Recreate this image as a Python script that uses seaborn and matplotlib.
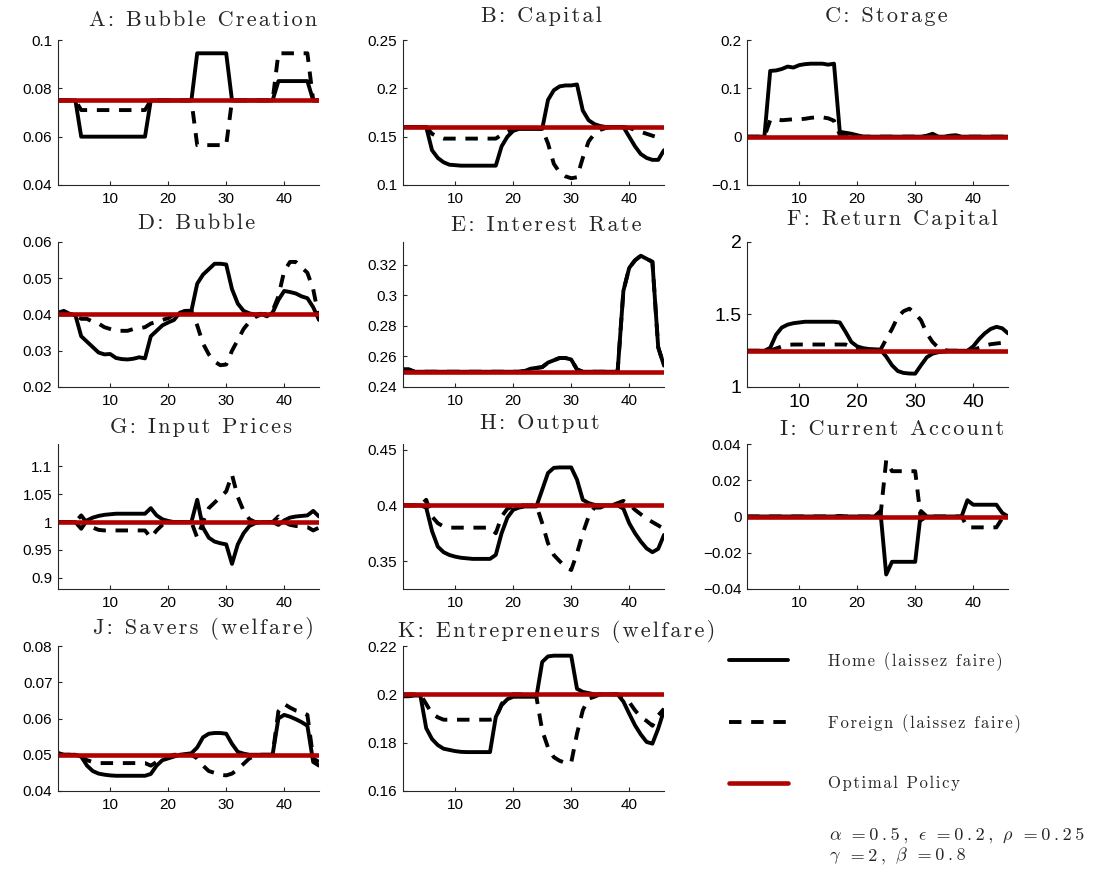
import matplotlib
matplotlib.use("Agg")
import matplotlib.pyplot as plt
from matplotlib.ticker import FuncFormatter
from matplotlib.font_manager import FontProperties
from matplotlib.offsetbox import TextArea, HPacker, AnchoredOffsetbox
import seaborn as sns

# ---------------------------------------------------------------------------
# Data, periods 1..46
# ---------------------------------------------------------------------------
periods = list(range(1, 47))

home_a = [0.075, 0.075, 0.075, 0.075, 0.060, 0.060, 0.060, 0.060, 0.060, 0.060,
          0.060, 0.060, 0.060, 0.060, 0.060, 0.060, 0.075, 0.075, 0.075, 0.075,
          0.075, 0.075, 0.075, 0.075, 0.0945, 0.0945, 0.0945, 0.0945, 0.0945, 0.0945,
          0.075, 0.075, 0.075, 0.075, 0.075, 0.075, 0.075, 0.075, 0.083, 0.083,
          0.083, 0.083, 0.083, 0.083, 0.075, 0.075]
foreign_a = [0.075, 0.075, 0.075, 0.075, 0.071, 0.071, 0.071, 0.071, 0.071, 0.071,
             0.071, 0.071, 0.071, 0.071, 0.071, 0.071, 0.075, 0.075, 0.075, 0.075,
             0.075, 0.075, 0.075, 0.075, 0.0565, 0.0565, 0.0565, 0.0565, 0.0565, 0.0565,
             0.075, 0.075, 0.075, 0.075, 0.075, 0.075, 0.075, 0.075, 0.0945, 0.0945,
             0.0945, 0.0945, 0.0945, 0.0945, 0.075, 0.075]

home_b = [0.160, 0.160, 0.160, 0.160, 0.160, 0.136, 0.128, 0.1235, 0.121, 0.1205,
          0.120, 0.120, 0.120, 0.120, 0.120, 0.120, 0.120, 0.140, 0.150, 0.156,
          0.158, 0.158, 0.158, 0.158, 0.158, 0.188, 0.198, 0.202, 0.203, 0.203,
          0.204, 0.177, 0.167, 0.163, 0.161, 0.160, 0.160, 0.160, 0.160, 0.150,
          0.140, 0.132, 0.128, 0.126, 0.126, 0.136]
foreign_b = [0.160, 0.160, 0.160, 0.160, 0.160, 0.153, 0.150, 0.148, 0.148, 0.148,
             0.148, 0.148, 0.148, 0.148, 0.148, 0.148, 0.148, 0.152, 0.155, 0.158,
             0.159, 0.159, 0.159, 0.159, 0.158, 0.143, 0.122, 0.113, 0.109, 0.107,
             0.108, 0.128, 0.145, 0.153, 0.157, 0.159, 0.160, 0.160, 0.160, 0.159,
             0.157, 0.155, 0.153, 0.151, 0.149, 0.147]

home_c = [0.0, 0.0, 0.0, 0.0, 0.136, 0.137, 0.140, 0.145, 0.143, 0.148,
          0.150, 0.151, 0.151, 0.151, 0.149, 0.151, 0.010, 0.008, 0.006, 0.003,
          0.0, 0.0, 0.0, 0.0, 0.0, 0.0, 0.0, 0.0, 0.0, 0.0,
          0.0, 0.002, 0.006, 0.0, 0.0, 0.002, 0.003, 0.0, 0.0, 0.0,
          0.0, 0.0, 0.0, 0.0, 0.0, 0.0]
foreign_c = [0.0, 0.0, 0.0, 0.0, 0.034, 0.036, 0.034, 0.035, 0.036, 0.036,
             0.037, 0.039, 0.040, 0.040, 0.038, 0.033, 0.004, 0.004, 0.002, 0.001,
             0.0, 0.0, 0.0, 0.0, 0.0, 0.0, 0.0, 0.0, 0.0, 0.0,
             0.0, 0.0, 0.0, 0.0, 0.0, 0.0, 0.0, 0.0, 0.0, 0.0,
             0.0, 0.0, 0.0, 0.0, 0.0, 0.0]

home_d = [0.0405, 0.041, 0.0402, 0.0398, 0.034, 0.0325, 0.031, 0.0295, 0.029, 0.0291,
          0.028, 0.0277, 0.0276, 0.0278, 0.0282, 0.0279, 0.034, 0.0355, 0.037, 0.0378,
          0.0385, 0.0405, 0.041, 0.041, 0.0485, 0.051, 0.0525, 0.054, 0.054, 0.0538,
          0.047, 0.043, 0.041, 0.0403, 0.040, 0.0402, 0.0395, 0.0405, 0.044, 0.0465,
          0.0462, 0.0458, 0.045, 0.0445, 0.042, 0.0385]
foreign_d = [0.040, 0.040, 0.040, 0.040, 0.0388, 0.0388, 0.038, 0.0375, 0.0365, 0.036,
             0.0355, 0.0355, 0.0355, 0.036, 0.0362, 0.0365, 0.0375, 0.038, 0.0385, 0.039,
             0.040, 0.0405, 0.041, 0.041, 0.037, 0.032, 0.029, 0.027, 0.026, 0.0262,
             0.030, 0.033, 0.036, 0.038, 0.0393, 0.040, 0.0402, 0.041, 0.045, 0.052,
             0.0545, 0.0545, 0.053, 0.0515, 0.047, 0.039]

home_e = [0.2515, 0.2515, 0.250, 0.250, 0.250, 0.250, 0.250, 0.250, 0.250, 0.250,
          0.250, 0.250, 0.250, 0.250, 0.250, 0.250, 0.250, 0.250, 0.250, 0.250,
          0.250, 0.2505, 0.252, 0.2525, 0.253, 0.256, 0.2575, 0.259, 0.259, 0.258,
          0.2515, 0.250, 0.250, 0.250, 0.250, 0.250, 0.250, 0.250, 0.303, 0.318,
          0.323, 0.326, 0.324, 0.322, 0.266, 0.254]
foreign_e = list(home_e)   # world interest rate: identical in both countries

home_f = [1.25, 1.25, 1.25, 1.25, 1.27, 1.36, 1.41, 1.43, 1.44, 1.445,
          1.45, 1.45, 1.45, 1.45, 1.45, 1.45, 1.445, 1.38, 1.31, 1.28,
          1.268, 1.262, 1.26, 1.258, 1.21, 1.15, 1.11, 1.097, 1.093, 1.092,
          1.15, 1.205, 1.23, 1.24, 1.245, 1.25, 1.25, 1.25, 1.25, 1.28,
          1.33, 1.37, 1.40, 1.415, 1.405, 1.37]
foreign_f = [1.25, 1.25, 1.25, 1.25, 1.25, 1.265, 1.28, 1.29, 1.293, 1.293,
             1.293, 1.293, 1.293, 1.293, 1.293, 1.293, 1.293, 1.293, 1.275, 1.26,
             1.255, 1.255, 1.255, 1.255, 1.33, 1.40, 1.484, 1.523, 1.54, 1.507,
             1.46, 1.37, 1.31, 1.27, 1.255, 1.25, 1.25, 1.25, 1.25, 1.255,
             1.27, 1.285, 1.295, 1.30, 1.305, 1.31]

home_g = [1.0, 1.0, 1.0, 1.0, 0.988, 1.003, 1.008, 1.011, 1.013, 1.014,
          1.015, 1.015, 1.015, 1.015, 1.015, 1.015, 1.025, 1.012, 1.005, 1.002,
          1.0, 1.0, 1.0, 1.0, 1.040, 0.990, 0.972, 0.965, 0.962, 0.960,
          0.925, 0.960, 0.980, 0.993, 0.998, 1.0, 1.0, 1.0, 0.995, 1.003,
          1.008, 1.010, 1.011, 1.012, 1.020, 1.010]
foreign_g = [1.0, 1.0, 1.0, 1.0, 1.012, 0.998, 0.990, 0.986, 0.985, 0.985,
             0.985, 0.985, 0.985, 0.985, 0.985, 0.985, 0.972, 0.985, 0.995, 1.0,
             1.0, 1.0, 1.0, 1.0, 0.972, 1.0, 1.025, 1.035, 1.045, 1.055,
             1.085, 1.045, 1.020, 1.005, 1.0, 1.0, 1.0, 1.0, 1.010, 1.0,
             0.995, 0.993, 0.992, 0.991, 0.985, 0.990]

home_h = [0.400, 0.400, 0.400, 0.400, 0.398, 0.377, 0.363, 0.358, 0.3555, 0.354,
          0.353, 0.3525, 0.352, 0.352, 0.352, 0.352, 0.3556, 0.375, 0.389, 0.396,
          0.398, 0.399, 0.399, 0.399, 0.414, 0.429, 0.4336, 0.434, 0.434, 0.434,
          0.423, 0.405, 0.402, 0.4005, 0.400, 0.400, 0.400, 0.400, 0.397, 0.384,
          0.375, 0.3676, 0.3614, 0.358, 0.361, 0.3735]
foreign_h = [0.400, 0.400, 0.400, 0.400, 0.405, 0.390, 0.384, 0.381, 0.380, 0.380,
             0.380, 0.380, 0.380, 0.380, 0.380, 0.380, 0.375, 0.390, 0.397, 0.399,
             0.400, 0.400, 0.400, 0.400, 0.384, 0.366, 0.3555, 0.350, 0.345, 0.342,
             0.357, 0.375, 0.390, 0.398, 0.398, 0.400, 0.400, 0.402, 0.404, 0.401,
             0.396, 0.392, 0.388, 0.385, 0.382, 0.379]

home_i = [0.0, 0.0, 0.0, 0.0, 0.0, 0.0, 0.0, 0.0, 0.0, 0.0,
          0.0, 0.0, 0.0, 0.0, 0.0, 0.0, 0.0003, 0.0, 0.0, 0.0,
          0.0, 0.0, 0.0, 0.003, -0.032, -0.025, -0.025, -0.025, -0.025, -0.025,
          0.003, 0.0, 0.0, 0.0, 0.0, 0.0, 0.0, 0.0, 0.009, 0.0065,
          0.0065, 0.0065, 0.0065, 0.0065, 0.002, 0.0]
foreign_i = [0.0, 0.0, 0.0, 0.0, 0.0, 0.0, 0.0, 0.0, 0.0, 0.0,
             0.0, 0.0, 0.0, 0.0, 0.0, 0.0, 0.0, 0.0, 0.0, 0.0,
             0.0, 0.0, 0.0, 0.0, 0.031, 0.025, 0.025, 0.025, 0.025, 0.025,
             -0.002, 0.0, 0.0, 0.0, 0.0, 0.0, 0.0, 0.0, -0.006, -0.006,
             -0.006, -0.006, -0.006, -0.006, -0.001, 0.0]

home_j = [0.0505, 0.050, 0.050, 0.050, 0.0495, 0.047, 0.0455, 0.0448, 0.0445, 0.0443,
          0.0442, 0.0442, 0.0442, 0.0442, 0.0442, 0.0442, 0.0447, 0.047, 0.0485, 0.049,
          0.0495, 0.050, 0.0502, 0.0504, 0.052, 0.0548, 0.0558, 0.056, 0.056, 0.0558,
          0.053, 0.0508, 0.0503, 0.050, 0.050, 0.050, 0.050, 0.050, 0.060, 0.061,
          0.0605, 0.0598, 0.059, 0.058, 0.048, 0.047]
foreign_j = [0.050, 0.050, 0.050, 0.050, 0.0495, 0.0485, 0.048, 0.0477, 0.0477, 0.0477,
             0.0477, 0.0477, 0.0477, 0.0477, 0.0477, 0.0477, 0.047, 0.048, 0.049, 0.0495,
             0.050, 0.050, 0.050, 0.050, 0.049, 0.047, 0.0455, 0.045, 0.0445, 0.0443,
             0.0448, 0.046, 0.0475, 0.049, 0.0497, 0.050, 0.050, 0.050, 0.062, 0.064,
             0.063, 0.0622, 0.0618, 0.061, 0.049, 0.048]

home_k = [0.1992, 0.1992, 0.1995, 0.1995, 0.186, 0.1815, 0.179, 0.1775, 0.177, 0.1765,
          0.1762, 0.1761, 0.1761, 0.1761, 0.1761, 0.1761, 0.1906, 0.1955, 0.198, 0.199,
          0.199, 0.199, 0.199, 0.199, 0.2134, 0.2157, 0.216, 0.216, 0.216, 0.216,
          0.2023, 0.201, 0.2005, 0.200, 0.200, 0.200, 0.200, 0.200, 0.197, 0.192,
          0.1872, 0.1834, 0.1803, 0.1796, 0.1858, 0.1934]
foreign_k = [0.200, 0.200, 0.200, 0.200, 0.196, 0.192, 0.1905, 0.1895, 0.1895, 0.1895,
             0.1895, 0.1895, 0.1895, 0.1895, 0.1895, 0.1895, 0.190, 0.196, 0.199, 0.200,
             0.200, 0.200, 0.200, 0.199, 0.185, 0.178, 0.174, 0.1725, 0.1717, 0.1717,
             0.1837, 0.1934, 0.1982, 0.199, 0.200, 0.200, 0.200, 0.200, 0.199, 0.1968,
             0.1934, 0.1906, 0.189, 0.187, 0.1913, 0.194]

# optimal policy (flat) per panel
optimal = [0.075, 0.16, 0.0, 0.04, 0.25, 1.25, 1.0, 0.40, 0.0, 0.05, 0.20]

titles = ["A: Bubble Creation", "B: Capital", "C: Storage",
          "D: Bubble", "E: Interest Rate", "F: Return Capital",
          "G: Input Prices", "H: Output", "I: Current Account",
          "J: Savers (welfare)", "K: Entrepreneurs (welfare)"]
home_series = [home_a, home_b, home_c, home_d, home_e, home_f,
               home_g, home_h, home_i, home_j, home_k]
foreign_series = [foreign_a, foreign_b, foreign_c, foreign_d, foreign_e, foreign_f,
                  foreign_g, foreign_h, foreign_i, foreign_j, foreign_k]
ylims = [(0.04, 0.1), (0.1, 0.25), (-0.1, 0.2), (0.02, 0.06), (0.24, 0.335),
         (1.0, 2.0), (0.88, 1.14), (0.325, 0.455), (-0.04, 0.04),
         (0.04, 0.08), (0.16, 0.22)]
yticks = [[0.04, 0.06, 0.08, 0.1], [0.1, 0.15, 0.2, 0.25], [-0.1, 0, 0.1, 0.2],
          [0.02, 0.03, 0.04, 0.05, 0.06], [0.24, 0.26, 0.28, 0.3, 0.32],
          [1, 1.5, 2], [0.9, 0.95, 1, 1.05, 1.1], [0.35, 0.4, 0.45],
          [-0.04, -0.02, 0, 0.02, 0.04], [0.04, 0.05, 0.06, 0.07, 0.08],
          [0.16, 0.18, 0.2, 0.22]]
xticks = [10, 20, 30, 40]

legend_labels = ["Home (laissez faire)", "Foreign (laissez faire)", "Optimal Policy"]
param_rows = [[(r"\alpha", "0.5"), (r"\epsilon", "0.2"), (r"\rho", "0.25")],
              [(r"\gamma", "2"), (r"\beta", "0.8")]]

# ---------------------------------------------------------------------------
# Style
# ---------------------------------------------------------------------------
sns.set_theme(style="ticks")
plt.rcParams["font.family"] = ["Liberation Sans", "DejaVu Sans"]
plt.rcParams["mathtext.fontset"] = "cm"
plt.rcParams["axes.unicode_minus"] = True

RED = "#b00000"
LW = 2.8
LW_RED = 3.3
W, H = 1109, 882
HAIR = "\u200a"
THIN = "\u2009"

# axes boxes in pixels (left, top, width, height)
col_left = [58, 403, 747]
row_top = [40, 242, 444, 646]
ax_w, ax_h = 261, 145
title_pads = [10, 13, 13, 9, 8, 12, 8, 11, 6.5, 9, 6.5]
title_x = [0.556, 0.529, 0.534, 0.529, 0.55, 0.557, 0.548, 0.525, 0.556, 0.557, 0.59]

serif = ["cmr10", "DejaVu Serif"]
title_font = FontProperties(family=serif, size=16)
legend_font = FontProperties(family=serif, size=12)
param_font = FontProperties(family=serif, size=13)


def spaced(s, sep=HAIR):
    """Letter-spaced text, like the LaTeX interpreter output of the original."""
    return sep.join(s)


def fmt(v, _pos):
    return f"{v:g}".replace("-", "\u2212")


fig = plt.figure(figsize=(W / 100, H / 100), dpi=100)
fig.patch.set_facecolor("white")

handles = None
for i, title in enumerate(titles):
    r, c = divmod(i, 3)
    left = col_left[c] / W
    bottom = 1 - (row_top[r] + ax_h) / H
    ax = fig.add_axes([left, bottom, ax_w / W, ax_h / H])

    sns.lineplot(x=periods, y=home_series[i], ax=ax, color="black", linewidth=LW)
    sns.lineplot(x=periods, y=foreign_series[i], ax=ax, color="black", linewidth=LW)
    ax.lines[-1].set_dashes([3.2, 2.5])
    sns.lineplot(x=periods, y=[optimal[i]] * len(periods), ax=ax,
                 color=RED, linewidth=LW_RED)
    if handles is None:
        handles = list(ax.lines[:3])

    ax.set_xlim(1, 46)
    ax.set_ylim(*ylims[i])
    ax.set_xticks(xticks)
    ax.set_yticks(yticks[i])
    ax.yaxis.set_major_formatter(FuncFormatter(fmt))
    ax.set_xlabel("")
    ax.set_ylabel("")
    sns.despine(ax=ax)
    for sp in ("left", "bottom"):
        ax.spines[sp].set_linewidth(0.8)
        ax.spines[sp].set_color("#262626")
    size = 14 if title.startswith("F") else 11
    ax.tick_params(direction="in", length=3, width=0.8, labelsize=size,
                   colors="#262626", labelcolor="black")
    ax.tick_params(axis="x", pad=5)
    ax.tick_params(axis="y", pad=4)
    ax.set_title(spaced(title), fontproperties=title_font, pad=title_pads[i],
                 x=title_x[i])
    ax.set_facecolor("white")

fig.legend(handles, [spaced(s) for s in legend_labels], loc="upper left",
           bbox_to_anchor=(729 / W, 1 - 652 / H), frameon=False,
           prop=legend_font, handlelength=3.55, handletextpad=2.4,
           labelspacing=2.6, borderpad=0, borderaxespad=0)

# parameter lines: math symbols + letter-spaced values
row_bottoms = [845, 866]
for row, ybot in zip(param_rows, row_bottoms):
    parts = []
    for k, (sym, val) in enumerate(row):
        parts.append(TextArea(f"${sym}$", textprops=dict(fontsize=13)))
        tail = " =" + val + (", " if k < len(row) - 1 else "")
        parts.append(TextArea(spaced(tail, THIN),
                              textprops=dict(fontproperties=param_font)))
    box = HPacker(children=parts, pad=0, sep=0, align="baseline")
    anchored = AnchoredOffsetbox(loc="lower left", child=box, pad=0, borderpad=0,
                                 frameon=False, bbox_to_anchor=(829 / W, 1 - ybot / H),
                                 bbox_transform=fig.transFigure)
    fig.add_artist(anchored)

fig.savefig("out.png", dpi=100, facecolor="white")
